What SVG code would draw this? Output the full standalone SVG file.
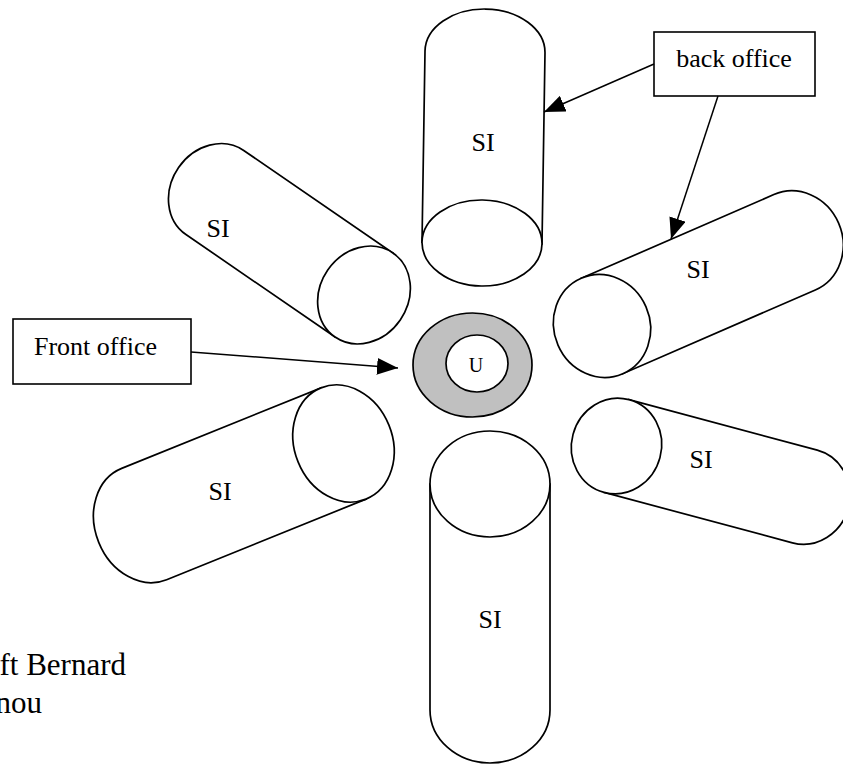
<svg xmlns="http://www.w3.org/2000/svg" width="843" height="765" viewBox="0 0 843 765">
  <defs>
    <marker id="arrow" markerUnits="userSpaceOnUse" markerWidth="21" markerHeight="17" refX="21" refY="8.5" orient="auto">
      <path d="M0,0 L21,8.5 L0,17 z" fill="#000"/>
    </marker>
    <style>
      .cyl { fill: #fff; stroke: #000; stroke-width: 1.7; }
      .box { fill: #fff; stroke: #000; stroke-width: 1.6; }
      .conn { fill: none; stroke: #000; stroke-width: 1.5; marker-end: url(#arrow); }
      .lbl { font-family: "Liberation Serif", "Times New Roman", serif; font-size: 26px; fill: #000; }
      .big { font-family: "Liberation Serif", "Times New Roman", serif; font-size: 31px; fill: #000; }
    </style>
  </defs>
  <rect width="843" height="765" fill="#fff"/>

  <!-- cylinders: local x runs from the visible end (0) to the far end (L) -->
  <g id="si-top" transform="translate(482,243) rotate(-89.1)">
    <path class="cyl" d="M0,-60 L191,-60 A43,60 0 0 1 191,60 L0,60 Z"/>
    <ellipse class="cyl" cx="0" cy="0" rx="43" ry="60"/>
  </g>
  <text class="lbl" x="483" y="151" text-anchor="middle">SI</text>

  <g id="si-upper-right" transform="translate(602,326) rotate(-23.5)">
    <path class="cyl" d="M0,-52 L210,-52 A48,52 0 0 1 210,52 L0,52 Z"/>
    <ellipse class="cyl" cx="0" cy="0" rx="48" ry="52"/>
  </g>
  <text class="lbl" x="698" y="278" text-anchor="middle">SI</text>

  <g id="si-upper-left" transform="translate(364,295) rotate(214.5)">
    <path class="cyl" d="M0,-51 L181,-51 A44,51 0 0 1 181,51 L0,51 Z"/>
    <ellipse class="cyl" cx="0" cy="0" rx="44" ry="51"/>
  </g>
  <text class="lbl" x="218" y="237" text-anchor="middle">SI</text>

  <g id="si-lower-left" transform="translate(343.5,443.5) rotate(158)">
    <path class="cyl" d="M0,-60 L215,-60 A49,60 0 0 1 215,60 L0,60 Z"/>
    <ellipse class="cyl" cx="0" cy="0" rx="49" ry="60"/>
  </g>
  <text class="lbl" x="220" y="500" text-anchor="middle">SI</text>

  <g id="si-lower-right" transform="translate(616.5,446) rotate(15)">
    <path class="cyl" d="M0,-48 L195,-48 A45,48 0 0 1 195,48 L0,48 Z"/>
    <ellipse class="cyl" cx="0" cy="0" rx="45" ry="48"/>
  </g>
  <text class="lbl" x="701" y="468" text-anchor="middle">SI</text>

  <g id="si-bottom" transform="translate(490,484) rotate(90)">
    <path class="cyl" d="M0,-60 L226,-60 A53,60 0 0 1 226,60 L0,60 Z"/>
    <ellipse class="cyl" cx="0" cy="0" rx="53" ry="60"/>
  </g>
  <text class="lbl" x="490" y="628" text-anchor="middle">SI</text>

  <!-- user at the centre -->
  <g id="user">
    <ellipse cx="472.5" cy="365" rx="59.5" ry="52" fill="#c0c0c0" stroke="#000" stroke-width="1.7"/>
    <ellipse cx="477" cy="363.5" rx="31" ry="28.5" fill="#fff" stroke="#000" stroke-width="1.7"/>
    <text x="476" y="372" text-anchor="middle" font-family="Liberation Serif, Times New Roman, serif" font-size="20">U</text>
  </g>

  <!-- labels -->
  <g id="back-office">
    <rect class="box" x="654" y="32" width="161" height="64"/>
    <text class="lbl" x="734" y="67" text-anchor="middle">back office</text>
  </g>
  <g id="front-office">
    <rect class="box" x="13" y="319" width="178" height="65"/>
    <text class="lbl" x="34" y="355">Front office</text>
  </g>

  <g id="connectors">
    <line class="conn" x1="654" y1="64" x2="544" y2="112"/>
    <line class="conn" x1="718" y1="96" x2="671" y2="239"/>
    <line class="conn" x1="191" y1="352" x2="398" y2="368"/>
  </g>

  <!-- author credit, running off the left edge -->
  <text class="big" x="126" y="675" text-anchor="end">ft Bernard</text>
  <text class="big" x="42" y="713" text-anchor="end">nou</text>
</svg>
